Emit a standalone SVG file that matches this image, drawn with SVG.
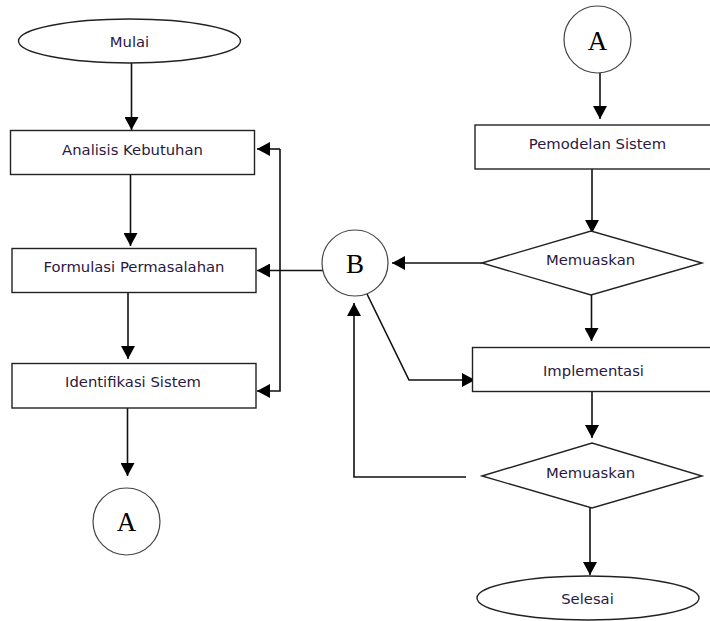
<svg xmlns="http://www.w3.org/2000/svg" width="710" height="621" viewBox="0 0 710 621">
<style>
.shape{fill:#fff;stroke:#222;stroke-width:1.4}
.circ{fill:#fff;stroke:#444;stroke-width:1.2}
.lbl{font-family:"DejaVu Sans",Verdana,sans-serif;font-size:14.8px;fill:#2a1840;text-anchor:middle}
.big{font-family:"Liberation Serif","Times New Roman",serif;font-size:27px;fill:#000;text-anchor:middle}
.con{fill:none;stroke:#111;stroke-width:1.6}
</style>
<defs>
<marker id="ah" markerWidth="14" markerHeight="14" refX="13" refY="7" orient="auto" markerUnits="userSpaceOnUse">
<path d="M0,0 L13,7 L0,14 Z" fill="#000"/>
</marker>
</defs>
<rect width="710" height="621" fill="#fff"/>
<g id="connectors">
<line class="con" x1="131.5" y1="63" x2="131.5" y2="130" marker-end="url(#ah)"/>
<line class="con" x1="130.5" y1="175" x2="130.5" y2="246" marker-end="url(#ah)"/>
<line class="con" x1="128" y1="293" x2="128" y2="359" marker-end="url(#ah)"/>
<line class="con" x1="127.5" y1="408" x2="127.5" y2="476" marker-end="url(#ah)"/>
<polyline class="con" points="280,149 280,391 257,391" marker-end="url(#ah)"/>
<line class="con" x1="280" y1="149" x2="257" y2="149" marker-end="url(#ah)"/>
<line class="con" x1="323" y1="270.5" x2="257" y2="270.5" marker-end="url(#ah)"/>
<line class="con" x1="600" y1="73" x2="600" y2="119" marker-end="url(#ah)"/>
<line class="con" x1="592" y1="169" x2="592" y2="233" marker-end="url(#ah)"/>
<line class="con" x1="482" y1="263" x2="392" y2="263" marker-end="url(#ah)"/>
<line class="con" x1="591.5" y1="295" x2="591.5" y2="341" marker-end="url(#ah)"/>
<polyline class="con" points="367,294 409,380 475,380" marker-end="url(#ah)"/>
<line class="con" x1="592" y1="392" x2="592" y2="438" marker-end="url(#ah)"/>
<polyline class="con" points="466,477 354,477 354,303" marker-end="url(#ah)"/>
<line class="con" x1="590" y1="508" x2="590" y2="575" marker-end="url(#ah)"/>
</g>
<g id="mulai">
<ellipse class="shape" cx="129.5" cy="41" rx="111" ry="22"/>
<text class="lbl" x="129.5" y="46.5">Mulai</text>
</g>
<g id="analisis">
<rect class="shape" x="10.5" y="130.5" width="244" height="44"/>
<text class="lbl" x="132.5" y="154.5">Analisis Kebutuhan</text>
</g>
<g id="formulasi">
<rect class="shape" x="12" y="248.5" width="244" height="44"/>
<text class="lbl" x="134" y="271.5">Formulasi Permasalahan</text>
</g>
<g id="identifikasi">
<rect class="shape" x="12" y="363.5" width="244" height="44.5"/>
<text class="lbl" x="133" y="386.5">Identifikasi Sistem</text>
</g>
<g id="a-bottom">
<circle class="circ" cx="126.5" cy="521.5" r="33.5"/>
<text class="big" x="126.5" y="531">A</text>
</g>
<g id="a-top">
<circle class="circ" cx="597.5" cy="39.5" r="33.5"/>
<text class="big" x="597.5" y="49.5">A</text>
</g>
<g id="pemodelan">
<rect class="shape" x="475" y="125" width="240" height="44"/>
<text class="lbl" x="597.5" y="149">Pemodelan Sistem</text>
</g>
<g id="memuaskan1">
<polygon class="shape" points="482,263 591,231 702,263 591,295"/>
<text class="lbl" x="590.5" y="264.5">Memuaskan</text>
</g>
<g id="b">
<circle class="circ" cx="355" cy="263" r="33"/>
<text class="big" x="355" y="273">B</text>
</g>
<g id="implementasi">
<rect class="shape" x="472.5" y="347.5" width="242" height="44"/>
<text class="lbl" x="593.5" y="375.5">Implementasi</text>
</g>
<g id="memuaskan2">
<polygon class="shape" points="482,476 592,443 702,476 592,508"/>
<text class="lbl" x="590.5" y="477.5">Memuaskan</text>
</g>
<g id="selesai">
<ellipse class="shape" cx="588" cy="598" rx="111" ry="22"/>
<text class="lbl" x="587.5" y="603.5">Selesai</text>
</g>
</svg>
